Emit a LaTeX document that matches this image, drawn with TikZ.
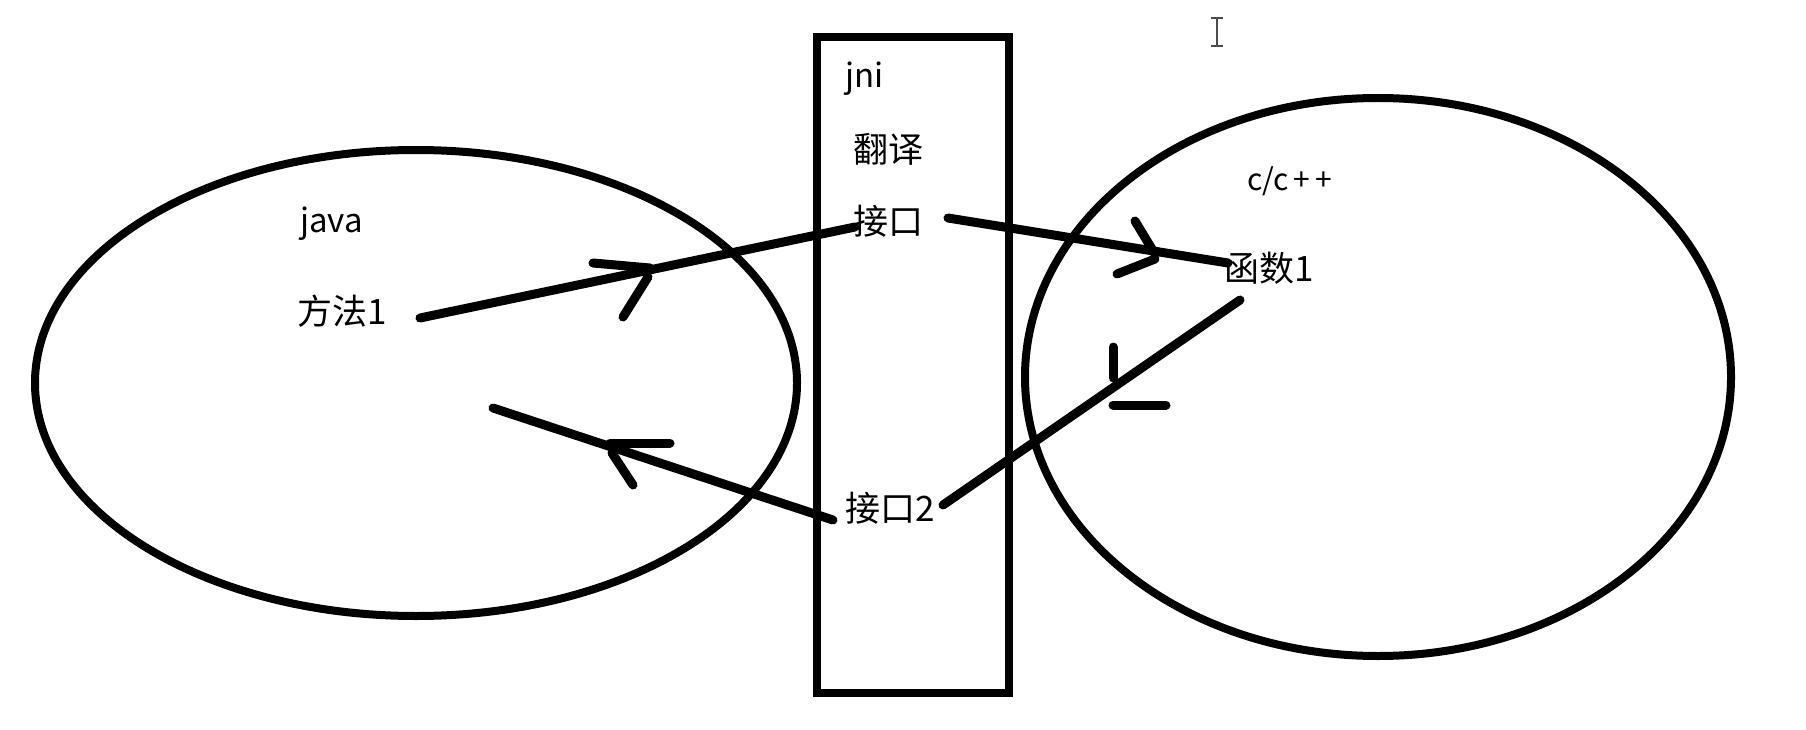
\documentclass[tikz,border=0pt]{standalone}
\usepackage{fontspec}
\setmainfont{Noto Sans CJK SC}
\usetikzlibrary{shapes.geometric}
\begin{document}
\begin{tikzpicture}[x=1pt,y=-1pt,
  outline/.style={draw=black,line width=8pt},
  stroke/.style={draw=black,line width=9pt,line cap=round},
  cjklbl/.style={inner sep=0pt,font=\fontsize{35}{40}\selectfont},
  latlbl/.style={inner sep=0pt,font=\fontsize{33}{38}\selectfont},
  smalllbl/.style={inner sep=0pt,font=\fontsize{30}{34}\selectfont},
  cursor/.style={draw=black!70,line width=2.5pt}]
\useasboundingbox[fill=white] (0,0) rectangle (1806,730);
% containers
\node[outline,ellipse,minimum width=762pt,minimum height=466pt,inner sep=0pt] (javaworld) at (416,383) {};
\node[outline,ellipse,minimum width=706pt,minimum height=558pt,inner sep=0pt] (cworld) at (1378,377) {};
\node[outline,rectangle,minimum width=192pt,minimum height=656pt,inner sep=0pt] (jnibox) at (913,365) {};
% labels
\node[latlbl,anchor=base west] (jni) at (845,88) {jni};
\node[cjklbl] (fanyi) at (888,149) {翻译};
\node[cjklbl] (jiekou) at (888,221) {接口};
\node[latlbl,anchor=base west] (java) at (300,233) {java};
\node[cjklbl] (fangfa) at (342,311) {方法1};
\node[smalllbl,anchor=base west] (cpp) at (1247,190) {c/c\kern5pt+\kern5pt+};
\node[cjklbl] (hanshu) at (1269,268) {函数1};
\node[cjklbl] (jiekou2) at (890,508) {接口2};
% connector end points
\coordinate (a1) at (420,318); \coordinate (a2) at (855,227);
\coordinate (a3) at (593,263); \coordinate (a4) at (650,268);
\coordinate (a5) at (648,277); \coordinate (a6) at (623,317);
\coordinate (b1) at (948,218); \coordinate (b2) at (1228,263);
\coordinate (b3) at (1135,221); \coordinate (b4) at (1155,254);
\coordinate (b5) at (1117,274); \coordinate (b6) at (1155,259);
\coordinate (c1) at (1240,300); \coordinate (c2) at (943,505);
\coordinate (c3) at (1113,347); \coordinate (c4) at (1113,378);
\coordinate (c5) at (1113,405); \coordinate (c6) at (1166,405);
\coordinate (d1) at (833,520); \coordinate (d2) at (493,408);
\coordinate (d3) at (610,443); \coordinate (d4) at (670,443);
\coordinate (d5) at (612,453); \coordinate (d6) at (633,485);
% connectors with hand-drawn heads
\draw[stroke] (a1) -- (a2);
\draw[stroke] (a3) -- (a4);
\draw[stroke] (a5) -- (a6);
\draw[stroke] (b1) -- (b2);
\draw[stroke] (b3) -- (b4);
\draw[stroke] (b5) -- (b6);
\draw[stroke] (c1) -- (c2);
\draw[stroke] (c3) -- (c4);
\draw[stroke] (c5) -- (c6);
\draw[stroke] (d1) -- (d2);
\draw[stroke] (d3) -- (d4);
\draw[stroke] (d5) -- (d6);
% text cursor
\coordinate (i1) at (1217,18); \coordinate (i2) at (1217,46);
\coordinate (i3) at (1211,18); \coordinate (i4) at (1223,18);
\coordinate (i5) at (1211,46); \coordinate (i6) at (1223,46);
\draw[cursor] (i1) -- (i2);
\draw[cursor] (i3) -- (i4);
\draw[cursor] (i5) -- (i6);
\end{tikzpicture}
\end{document}
